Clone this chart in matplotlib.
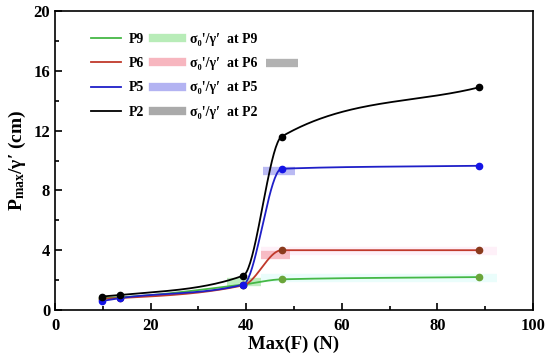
import numpy as np
import matplotlib
matplotlib.use("Agg")
import matplotlib.pyplot as plt
from matplotlib.lines import Line2D
from matplotlib.ticker import MultipleLocator

plt.rcParams['font.family'] = ['Liberation Serif', 'DejaVu Serif']
plt.rcParams['font.weight'] = 'bold'
plt.rcParams['mathtext.default'] = 'regular'

# data
force = [9.8, 13.7, 39.4, 47.4, 88.7]
p2 = [0.9, 1.0, 2.3, 11.6, 14.9]
p5 = [0.6, 0.8, 1.7, 9.45, 9.65]
p6 = [0.75, 0.8, 1.65, 4.0, 4.0]
p9 = [0.8, 0.85, 1.7, 2.05, 2.2]
names = ['P9', 'P6', 'P5', 'P2']

# sigma0'/gamma' bands: (y, x start, x end)
band_y = [1.85, 3.65, 9.3, 16.5]
band_x0 = [36.0, 43.0, 43.5, 44.2]
band_x1 = [43.0, 49.2, 50.2, 50.8]

line_cols = ['#45b845', '#c0392b', '#1f1fc8', '#000000']
mark_cols = ['#6aa53a', '#8a3a1c', '#1414e6', '#000000']
band_cols = ['#b8ecb8', '#f7b6bf', '#b3b3f2', '#aaaaaa']


def pchip(x, y, xs):
    x = np.asarray(x, float)
    y = np.asarray(y, float)
    h = np.diff(x)
    d = np.diff(y) / h
    m = np.zeros_like(y)
    for k in range(1, len(x) - 1):
        if d[k - 1] * d[k] > 0:
            w1 = 2 * h[k] + h[k - 1]
            w2 = h[k] + 2 * h[k - 1]
            m[k] = (w1 + w2) / (w1 / d[k - 1] + w2 / d[k])
    m[0] = d[0]
    m[-1] = d[-1]
    out = np.empty_like(xs)
    for i, xv in enumerate(xs):
        k = min(np.searchsorted(x, xv) - 1, len(x) - 2)
        k = max(k, 0)
        t = (xv - x[k]) / h[k]
        h00 = 2 * t**3 - 3 * t**2 + 1
        h10 = t**3 - 2 * t**2 + t
        h01 = -2 * t**3 + 3 * t**2
        h11 = t**3 - t**2
        out[i] = h00 * y[k] + h10 * h[k] * m[k] + h01 * y[k + 1] + h11 * h[k] * m[k + 1]
    return out


fig = plt.figure(figsize=(5.5, 3.6), dpi=100)
ax = fig.add_axes([0.1, 0.139, 0.869, 0.83])

# faint bands along the flat parts
ax.plot([43, 92.5], [2.15, 2.15], color='#eafdfb', lw=6, solid_capstyle='butt', zorder=1)
ax.plot([43, 92.5], [3.95, 3.95], color='#fef0f8', lw=6, solid_capstyle='butt', zorder=1)

for i in range(4):
    ax.plot([band_x0[i], band_x1[i]], [band_y[i], band_y[i]], color=band_cols[i],
            lw=6, solid_capstyle='butt', alpha=0.9, zorder=2)

xs = np.linspace(force[0], force[-1], 400)
series = [p9, p6, p5, p2]
for i, ys in enumerate(series):
    ax.plot(xs, pchip(force, ys, xs), color=line_cols[i], lw=1.3, zorder=3)
    ax.plot(force, ys, 'o', color=mark_cols[i], ms=4.5, zorder=4)

ax.set_xlim(0, 100)
ax.set_ylim(0, 20)
ax.xaxis.set_major_locator(MultipleLocator(20))
ax.xaxis.set_minor_locator(MultipleLocator(10))
ax.yaxis.set_major_locator(MultipleLocator(4))
ax.yaxis.set_minor_locator(MultipleLocator(2))
ax.tick_params(which='both', direction='in', labelsize=12, width=1.2)
ax.tick_params(which='major', length=5)
ax.tick_params(which='minor', length=3)
ax.tick_params(axis='x', pad=6)
for s in ax.spines.values():
    s.set_linewidth(1.2)
for lab in ax.get_xticklabels() + ax.get_yticklabels():
    lab.set_fontweight('bold')

ax.set_xlabel('Max(F) (N)', fontsize=13.5, fontweight='bold', labelpad=1)
ax.set_ylabel("P$_{max}$/γ′ (cm)", fontsize=14, fontweight='bold', labelpad=4)

handles = [Line2D([], [], color=c, lw=1.3) for c in line_cols]
handles += [Line2D([], [], color=c, lw=6) for c in band_cols]
labels = names + ["σ₀'/γ′  at " + n for n in names]
leg = ax.legend(handles, labels, ncol=2, loc='upper left', bbox_to_anchor=(0.05, 0.97),
                frameon=False, prop={'size': 10, 'weight': 'bold'}, handlelength=2.1,
                labelspacing=0.82, columnspacing=0.6, handletextpad=0.6)

fig.savefig('out.png', dpi=100)
